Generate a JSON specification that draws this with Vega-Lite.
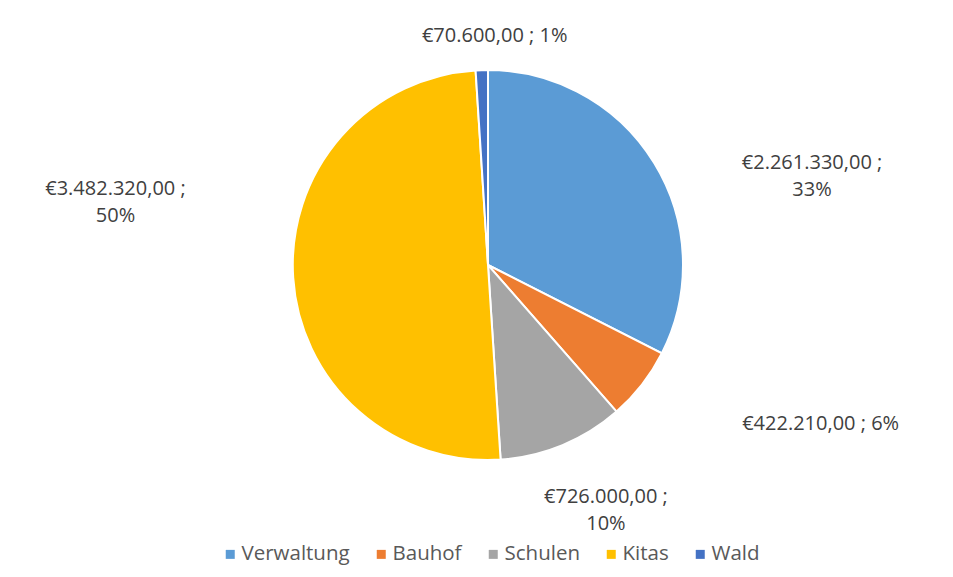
{
  "$schema": "https://vega.github.io/schema/vega-lite/v6.json",
  "autosize": "none",
  "padding": {"left": 0, "top": 0, "right": 0, "bottom": 47},
  "width": 976,
  "height": 530,
  "background": "white",
  "config": {
    "view": {"stroke": null},
    "text": {"font": "Open Sans", "fontSize": 20, "color": "#404040", "lineBreak": "\n", "lineHeight": 27, "align": "center", "baseline": "middle"},
    "legend": {"labelFont": "Open Sans", "labelFontSize": 20.5, "labelColor": "#595959", "symbolType": "square", "symbolSize": 81, "symbolStrokeWidth": 0, "labelOffset": 1, "columnPadding": 21, "padding": 0}
  },
  "data": {
    "values": [
      {"i": 1, "cat": "Verwaltung", "value": 2261330, "label": "€2.261.330,00 ;\n33%"},
      {"i": 2, "cat": "Bauhof", "value": 422210, "label": "€422.210,00 ; 6%"},
      {"i": 3, "cat": "Schulen", "value": 726000, "label": "€726.000,00 ;\n10%"},
      {"i": 4, "cat": "Kitas", "value": 3482320, "label": "€3.482.320,00 ;\n50%"},
      {"i": 5, "cat": "Wald", "value": 70600, "label": "€70.600,00 ; 1%"}
    ]
  },
  "encoding": {
    "theta": {"field": "value", "type": "quantitative", "stack": true},
    "order": {"field": "i", "type": "quantitative"}
  },
  "layer": [
    {
      "mark": {"type": "arc", "outerRadius": 195, "stroke": "white", "strokeWidth": 2},
      "encoding": {
        "color": {
          "field": "cat", "type": "nominal",
          "scale": {"domain": ["Verwaltung", "Bauhof", "Schulen", "Kitas", "Wald"], "range": ["#5B9BD5", "#ED7D31", "#A5A5A5", "#FFC000", "#4472C4"]},
          "legend": {"title": null, "orient": "none", "direction": "horizontal", "columns": 5, "legendX": 220, "legendY": 544}
        }
      }
    },
    {
      "mark": {"type": "text", "radius": 230, "dx": 128, "dy": 18},
      "encoding": {"detail": {"field": "cat"}, "text": {"condition": {"test": "datum.cat === 'Verwaltung'", "field": "label"}, "value": ""}}
    },
    {
      "mark": {"type": "text", "radius": 230, "dx": 151, "dy": 18},
      "encoding": {"detail": {"field": "cat"}, "text": {"condition": {"test": "datum.cat === 'Bauhof'", "field": "label"}, "value": ""}}
    },
    {
      "mark": {"type": "text", "radius": 230, "dx": 30, "dy": 19},
      "encoding": {"detail": {"field": "cat"}, "text": {"condition": {"test": "datum.cat === 'Schulen'", "field": "label"}, "value": ""}}
    },
    {
      "mark": {"type": "text", "radius": 230, "dx": -143, "dy": -91},
      "encoding": {"detail": {"field": "cat"}, "text": {"condition": {"test": "datum.cat === 'Kitas'", "field": "label"}, "value": ""}}
    },
    {
      "mark": {"type": "text", "radius": 230, "dx": 14, "dy": 1},
      "encoding": {"detail": {"field": "cat"}, "text": {"condition": {"test": "datum.cat === 'Wald'", "field": "label"}, "value": ""}}
    }
  ]
}
